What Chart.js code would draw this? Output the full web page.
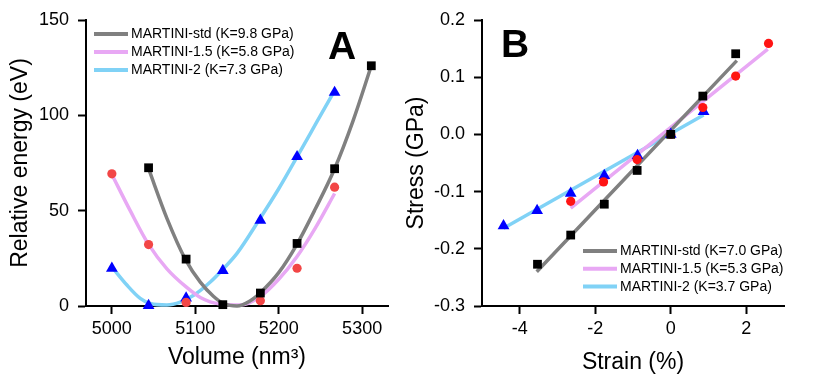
<!DOCTYPE html>
<html>
<head>
<meta charset="utf-8">
<script src="https://cdn.jsdelivr.net/npm/chart.js@4.4.1/dist/chart.umd.min.js"></script>
<style>
    html, body { margin: 0; padding: 0; background: #fff; }
    .panel { position: absolute; top: 0; height: 380px; }
    #panel-a { left: 0; width: 400px; }
    #panel-b { left: 400px; width: 418px; }
</style>
</head>
<body>
<div class="panel" id="panel-a"><canvas id="energy-canvas" width="400" height="380"></canvas></div>
<div class="panel" id="panel-b"><canvas id="stress-canvas" width="418" height="380"></canvas></div>
<script>
// ---- Panel A: relative energy vs volume ----
const volumeTicks = [5000, 5100, 5200, 5300];
const energyTicks = [0, 50, 100, 150];
const volumePoints = [5000, 5044, 5089, 5133, 5178, 5222, 5267, 5311];
const energyStd = [null, 72.5, 24.6, 0.7, 6.8, 32.8, 72, 126];
const energyM15 = [69.3, 32.2, 1.9, null, 2.8, 19.8, 62.3, null];
const energyM2 = [19.8, 0.2, 4.2, 18.6, 44.9, 78.3, 112, null];

// fitted curves
const fitVolumeStd = [5044, 5066, 5088, 5106, 5122, 5134, 5150, 5165, 5178, 5200, 5222, 5244, 5267, 5289, 5311];
const fitEnergyStd = [72, 46, 24.6, 12.5, 5, 1.3, 0, 2.5, 7, 17.5, 32.5, 51, 72, 97, 126];
const fitVolumeM15 = [5000, 5022, 5044, 5066, 5089, 5106, 5130, 5154, 5178, 5200, 5222, 5244, 5267];
const fitEnergyM15 = [69, 50, 32.3, 19.5, 10, 4.5, 1, 0.5, 5, 14, 26, 41, 59];
const fitVolumeM2 = [5000, 5018, 5034, 5046, 5066, 5082, 5098, 5118, 5134, 5150, 5177, 5200, 5223, 5245, 5267];
const fitEnergyM2 = [20.5, 11, 4, 1.3, 0.5, 2, 5.6, 12.6, 19.7, 27.6, 45.5, 61.5, 79, 96, 113];

const legendA = ['MARTINI-std (K=9.8 GPa)', 'MARTINI-1.5 (K=5.8 GPa)', 'MARTINI-2 (K=7.3 GPa)'];

// ---- Panel B: stress vs strain ----
const strainTicks = [-4, -2, 0, 2];
const stressTicks = [-0.3, -0.2, -0.1, 0.0, 0.1, 0.2];
const strainStd = [-3.53, -2.65, -1.76, -0.89, 0, 0.85, 1.72];
const stressStd = [-0.227, -0.176, -0.122, -0.063, 0, 0.067, 0.141];
const strainM15 = [-2.65, -1.78, -0.89, 0, 0.85, 1.72, 2.59];
const stressM15 = [-0.117, -0.083, -0.044, 0, 0.047, 0.102, 0.159];
const strainM2 = [-4.43, -3.54, -2.65, -1.76, -0.88, 0, 0.87];
const stressM2 = [-0.160, -0.133, -0.103, -0.072, -0.037, 0, 0.040];

const fitStrainStd = [-3.55, 1.75];
const fitStressStd = [-0.240, 0.129];
const fitStrainM15 = [-2.65, 2.57];
const fitStressM15 = [-0.129, 0.149];
const fitStrainM2 = [-4.43, 0.87];
const fitStressM2 = [-0.164, 0.034];

const legendB = ['MARTINI-std (K=7.0 GPa)', 'MARTINI-1.5 (K=5.3 GPa)', 'MARTINI-2 (K=3.7 GPa)'];

const GRAY = '#808080';
const PINK = '#e8a8f4';
const SKY = '#80d2f6';

Chart.defaults.font.family = "'Liberation Sans', Arial, sans-serif";
Chart.defaults.color = '#000';

const toPoints = (xs, ys) => xs.map((x, i) => ({ x: x, y: ys[i] })).filter(p => p.y !== null);

function markerSet(data, shape, color, radius) {
    return {
        data: data,
        showLine: false,
        pointStyle: shape,
        pointRadius: radius,
        pointBackgroundColor: color,
        pointBorderWidth: 0,
        clip: false
    };
}

function fitSet(label, data, color) {
    return {
        label: label,
        data: data,
        showLine: true,
        borderColor: color,
        borderWidth: 3.5,
        pointRadius: 0,
        cubicInterpolationMode: 'monotone',
        clip: false,
        isFit: true
    };
}

// legend + panel letter, drawn inside the plot
const decorPlugin = {
    id: 'panelDecor',
    afterDraw(chart, args, opts) {
        const ctx = chart.ctx;
        const fits = chart.data.datasets.filter(d => d.isFit);
        ctx.save();
        ctx.font = "14px 'Liberation Sans', Arial, sans-serif";
        ctx.textBaseline = 'middle';
        ctx.textAlign = 'left';
        fits.forEach((ds, i) => {
            const y = opts.legendY + i * opts.rowGap;
            ctx.strokeStyle = ds.borderColor;
            ctx.lineWidth = 4;
            ctx.beginPath();
            ctx.moveTo(opts.legendX, y);
            ctx.lineTo(opts.legendX + 34, y);
            ctx.stroke();
            ctx.fillStyle = '#000';
            ctx.fillText(ds.label, opts.legendX + 37, y + 0.5);
        });
        ctx.font = "bold 39px 'Liberation Sans', Arial, sans-serif";
        ctx.textBaseline = 'alphabetic';
        ctx.fillText(opts.letter, opts.letterX, opts.letterY);
        ctx.restore();
    }
};

function axis(ticks, min, max, title, titlePad, fmt) {
    return {
        type: 'linear',
        min: min,
        max: max,
        afterBuildTicks: scale => { scale.ticks = ticks.map(v => ({ value: v })); },
        ticks: {
            font: { size: 18 },
            color: '#000',
            padding: 4,
            callback: fmt
        },
        grid: {
            display: true,
            drawOnChartArea: false,
            drawTicks: true,
            tickLength: 8,
            tickWidth: 2,
            color: '#000',
            tickColor: '#000'
        },
        border: { display: true, color: '#000', width: 2 },
        title: {
            display: true,
            text: title,
            color: '#000',
            font: { size: 23 },
            padding: titlePad
        }
    };
}

function baseOptions(padRight, yWidth, xScale, yScale, decor) {
    xScale.afterFit = scale => { scale.height = 74; };
    yScale.afterFit = scale => { scale.width = yWidth; };
    yScale.ticks.padding = 9;
    return {
        responsive: false,
        animation: false,
        events: [],
        layout: { padding: { top: 20, right: padRight, left: 0, bottom: 0 } },
        scales: { x: xScale, y: yScale },
        plugins: {
            legend: { display: false },
            tooltip: { enabled: false },
            panelDecor: decor
        }
    };
}

const xA = axis(volumeTicks, 4969, 5331, 'Volume (nm\u00b3)', { top: 0, bottom: 9 }, v => String(v));
const yA = axis(energyTicks, 0, 150, 'Relative energy (eV)', { top: 7, bottom: 0 }, v => String(v));

new Chart(document.getElementById('energy-canvas'), {
    type: 'scatter',
    data: {
        datasets: [
            markerSet(toPoints(volumePoints, energyStd), 'rect', '#000', 6.2),
            markerSet(toPoints(volumePoints, energyM15), 'circle', '#f24646', 4.6),
            markerSet(toPoints(volumePoints, energyM2), 'triangle', '#0000ff', 6.8),
            fitSet(legendA[0], toPoints(fitVolumeStd, fitEnergyStd), GRAY),
            fitSet(legendA[1], toPoints(fitVolumeM15, fitEnergyM15), PINK),
            fitSet(legendA[2], toPoints(fitVolumeM2, fitEnergyM2), SKY)
        ]
    },
    options: baseOptions(12, 86, xA, yA, {
        legendX: 94, legendY: 34, rowGap: 18,
        letter: 'A', letterX: 328, letterY: 59
    }),
    plugins: [decorPlugin]
});

const xB = axis(strainTicks, -5, 3, 'Strain (%)', { top: 0, bottom: 4 }, v => String(v));
const yB = axis(stressTicks, -0.3, 0.2, 'Stress (GPa)', { top: 3, bottom: 0 }, v => v.toFixed(1));

new Chart(document.getElementById('stress-canvas'), {
    type: 'scatter',
    data: {
        datasets: [
            markerSet(toPoints(strainStd, stressStd), 'rect', '#000', 6.2),
            markerSet(toPoints(strainM15, stressM15), 'circle', '#ff1414', 4.6),
            markerSet(toPoints(strainM2, stressM2), 'triangle', '#0000ff', 6.8),
            fitSet(legendB[0], toPoints(fitStrainStd, fitStressStd), GRAY),
            fitSet(legendB[1], toPoints(fitStrainM15, fitStressM15), PINK),
            fitSet(legendB[2], toPoints(fitStrainM2, fitStressM2), SKY)
        ]
    },
    options: baseOptions(34, 82, xB, yB, {
        legendX: 183, legendY: 251, rowGap: 17.7,
        letter: 'B', letterX: 101, letterY: 57
    }),
    plugins: [decorPlugin]
});
</script>
</body>
</html>
